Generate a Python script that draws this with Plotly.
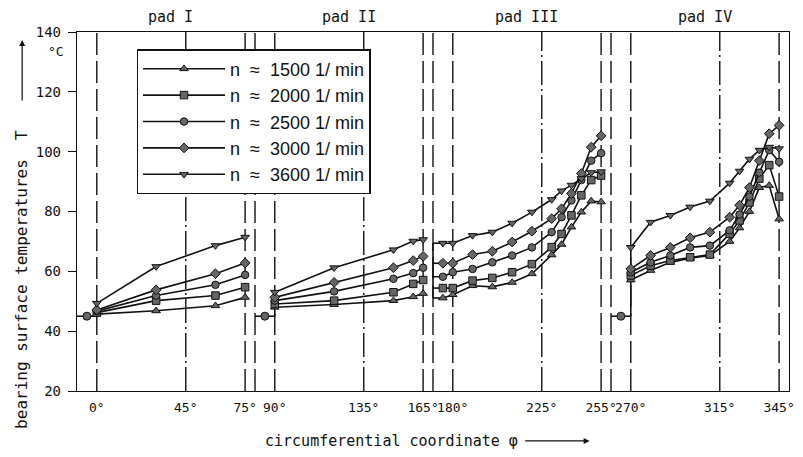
import plotly.graph_objects as go

# ---------------- data ----------------
speeds = ["1500", "2000", "2500", "3000", "3600"]
symbols = ["triangle-up", "square", "circle", "diamond", "triangle-down"]

phi_pad1 = [0, 30, 60, 75]
phi_pad2 = [90, 120, 150, 160, 165]
phi_pad3 = [175, 180, 190, 200, 210, 220, 230, 235, 240, 245, 250, 255]
phi_pad4 = [270, 280, 290, 300, 310, 320, 325, 330, 335, 340, 345]

T_1500 = [45.7, 46.8, 48.5, 51.3,
          48.0, 48.9, 50.2, 51.5, 52.6,
          51.1, 52.2, 55.2, 54.8, 56.3, 59.2, 65.5, 69.0, 74.8, 79.8, 83.5, 83.2,
          57.1, 60.3, 63.0, 64.4, 65.3, 70.0, 74.5, 80.0, 88.0, 88.7, 77.5]
T_2000 = [46.2, 50.2, 51.9, 54.7,
          49.1, 50.2, 53.0, 55.8, 57.1,
          54.4, 54.4, 56.9, 57.8, 59.7, 62.4, 68.1, 72.5, 78.7, 85.4, 90.5, 92.0,
          58.6, 61.9, 63.6, 64.7, 65.6, 72.6, 77.0, 83.0, 91.0, 95.5, 85.0]
T_2500 = [46.7, 51.9, 55.5, 58.8,
          50.2, 53.3, 57.5, 59.4, 61.2,
          58.2, 59.7, 60.8, 63.0, 65.3, 68.0, 73.1, 78.1, 83.7, 90.5, 97.0, 99.5,
          59.7, 63.0, 65.3, 68.0, 68.6, 73.7, 79.0, 85.0, 93.0, 100.5, 96.6]
T_3000 = [47.1, 53.8, 59.2, 62.8,
          51.3, 56.3, 61.2, 63.6, 65.0,
          62.7, 62.7, 65.6, 66.7, 69.8, 73.4, 77.6, 80.9, 86.0, 92.7, 101.5, 105.3,
          60.8, 65.3, 68.0, 71.2, 73.1, 78.1, 82.1, 88.0, 97.0, 106.0, 108.8]
T_3600 = [49.3, 61.6, 68.6, 71.4,
          53.0, 61.2, 67.2, 70.1, 70.6,
          69.4, 69.4, 72.0, 73.1, 76.1, 79.8, 84.0, 86.9, 88.8, 91.0, 93.0, 93.3,
          68.0, 76.4, 78.7, 81.5, 83.5, 89.5, 93.5, 97.5, 100.5, 101.5, 101.0]

# groove (between-pad) sensors
gap_phi = [-5, 85, 265]
gap_T = [45, 45, 45]
groove_from = [-10, 80, 260]
groove_to = [0, 90, 270]
bracket_phi = 170          # pad III inlet bracket

pad_names = ["pad I", "pad II", "pad III", "pad IV"]
pad_start = [0, 90, 180, 270]
pad_end = [75, 165, 255, 345]
edge_lines = [0, 75, 80, 90, 165, 170, 180, 255, 260, 270, 345]
mid_lines = [45, 135, 225, 315]
tick_phi = [0, 45, 75, 90, 135, 165, 180, 225, 255, 270, 315, 345]
tick_text = [f"{t}°" for t in tick_phi]
y_ticks = [20, 40, 60, 80, 100, 120, 140]

# ---------------- figure ----------------
MONO = "DejaVu Sans Mono"
INK = "#111"
all_T = [T_1500, T_2000, T_2500, T_3000, T_3600]
pads = [phi_pad1, phi_pad2, phi_pad3, phi_pad4]

def split(vals):
    out, k = [], 0
    for p in pads:
        out.append(vals[k:k + len(p)])
        k += len(p)
    return out

fig = go.Figure()

# connectors: groove lines, brackets, stubs
cx, cy = [], []
firsts = [[split(T)[pi][0] for T in all_T] for pi in range(4)]
for j, pi in enumerate([0, 1, 3]):
    cx += [groove_from[j], groove_to[j], None]
    cy += [gap_T[j], gap_T[j], None]
    cx += [groove_to[j], groove_to[j], None]
    cy += [gap_T[j], max(firsts[pi]), None]
cx += [bracket_phi, bracket_phi, None]
cy += [min(firsts[2]), max(firsts[2]), None]
for v in firsts[2]:
    cx += [bracket_phi, phi_pad3[0], None]
    cy += [v, v, None]
fig.add_trace(go.Scatter(x=cx, y=cy, mode="lines", showlegend=False,
                         line=dict(color=INK, width=1.6), hoverinfo="skip"))
fig.add_trace(go.Scatter(x=gap_phi, y=gap_T, mode="markers", showlegend=False,
                         marker=dict(symbol="circle", size=8, color="#666",
                                     line=dict(color=INK, width=1))))

for name, sym, T in zip(speeds, symbols, all_T):
    parts = split(T)
    xs, ys = [], []
    for p, v in zip(pads, parts):
        xs += p + [None]
        ys += v + [None]
    fig.add_trace(go.Scatter(
        x=xs, y=ys, mode="lines+markers", name=f"n  ≈  {name} 1/ min",
        line=dict(color=INK, width=1.6),
        marker=dict(symbol=sym, size=7.5, color="#666", line=dict(color=INK, width=1)),
    ))

for xv in edge_lines:
    fig.add_vline(x=xv, line=dict(color=INK, width=1.4, dash="22px,6px"), layer="below")
for xv in mid_lines:
    fig.add_vline(x=xv, line=dict(color=INK, width=1.4, dash="24px,4px,2px,4px"), layer="below")

for nm, a, b in zip(pad_names, pad_start, pad_end):
    fig.add_annotation(x=(a + b) / 2, y=1, xref="x", yref="paper", yanchor="bottom",
                       xanchor="center", yshift=4, text=nm, showarrow=False,
                       font=dict(family=MONO, size=15, color=INK))

# unit label
fig.add_annotation(x=-0.029, y=133.4, xref="paper", yref="y", xanchor="center",
                   text="°C", showarrow=False, font=dict(family=MONO, size=13, color=INK))
# y title
fig.add_annotation(x=-0.077, y=0.31, xref="paper", yref="paper", xanchor="center",
                   yanchor="middle", text="bearing surface temperatures  T",
                   textangle=-90, showarrow=False, font=dict(family=MONO, size=16, color=INK))
fig.add_annotation(x=-0.077, y=0.978, xref="paper", yref="paper", ax=0, ay=62, text="",
                   showarrow=True, arrowhead=2, arrowsize=1, arrowwidth=1.2, arrowcolor=INK)
# x title
fig.add_annotation(x=0.4415, y=-0.139, xref="paper", yref="paper", xanchor="center",
                   yanchor="middle", text="circumferential coordinate φ",
                   showarrow=False, font=dict(family=MONO, size=15, color=INK))
fig.add_annotation(x=0.72, y=-0.139, xref="paper", yref="paper", ax=-66, ay=0, text="",
                   showarrow=True, arrowhead=2, arrowsize=1, arrowwidth=1.2, arrowcolor=INK)

fig.update_xaxes(range=[-10, 350], tickvals=tick_phi, ticktext=tick_text, showgrid=False,
                 zeroline=False, showline=True, linecolor=INK, linewidth=1.4, mirror=True,
                 ticks="", tickangle=0, ticklabelstandoff=4,
                 tickfont=dict(family=MONO, size=13, color=INK))
fig.update_yaxes(range=[20, 140], tickvals=y_ticks, showgrid=False, zeroline=False,
                 showline=True, linecolor=INK, linewidth=1.4, mirror=True,
                 ticks="outside", ticklen=8, tickcolor=INK, ticklabelstandoff=4,
                 tickfont=dict(family=MONO, size=14, color=INK))

fig.update_layout(
    width=803, height=457, margin=dict(l=77, r=8, t=32, b=66),
    plot_bgcolor="white", paper_bgcolor="white",
    legend=dict(x=0.0836, y=0.9526, xanchor="left", yanchor="top",
                bgcolor="white", bordercolor=INK, borderwidth=1.5,
                font=dict(family="Liberation Sans", size=18, color=INK),
                itemwidth=82),
)

fig.write_html("out.html", config={"displayModeBar": False},
               post_script="document.body.style.margin='0';document.body.style.overflow='hidden';")
